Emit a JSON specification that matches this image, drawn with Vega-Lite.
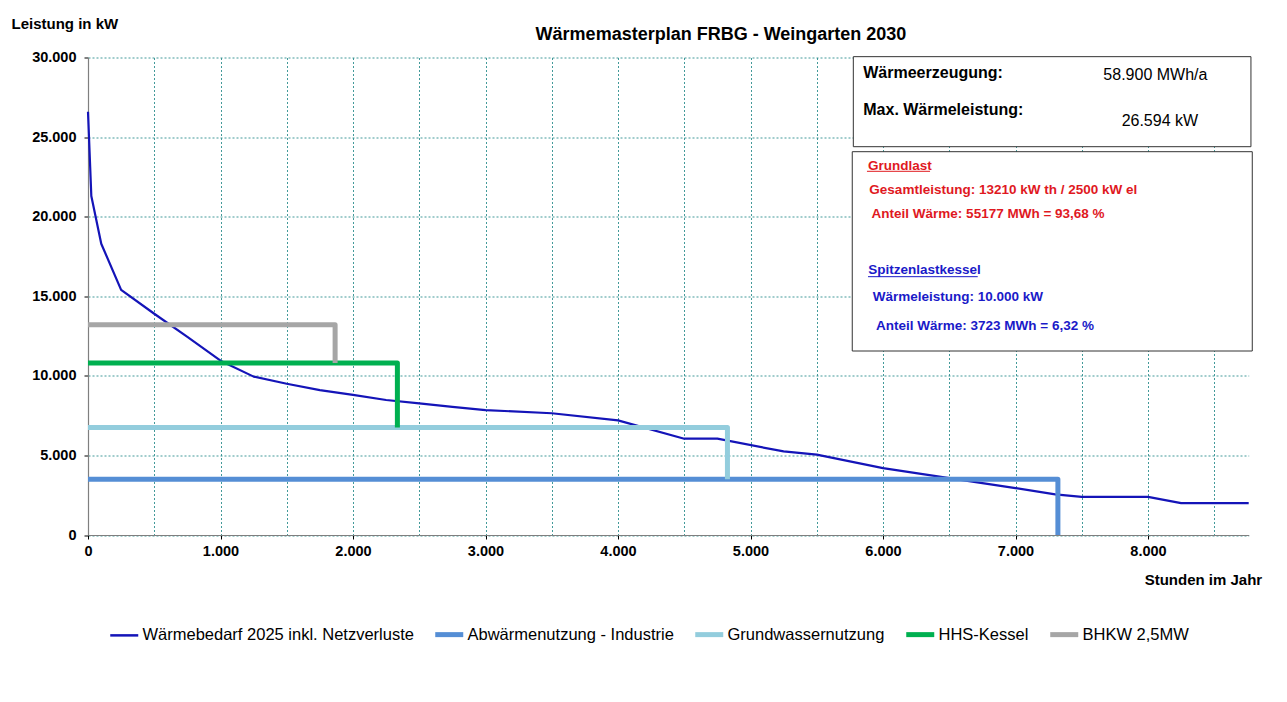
{
  "$schema": "https://vega.github.io/schema/vega-lite/v6.json",
  "width": 1160.7,
  "height": 477.5,
  "autosize": {"type": "none"},
  "padding": {"left": 88, "top": 57.5, "right": 38.3, "bottom": 167},
  "background": "white",
  "config": {"font": "Liberation Sans", "view": {"stroke": null}},
  "title": {
    "text": "Wärmemasterplan  FRBG - Weingarten 2030",
    "anchor": "start", "align": "center", "dx": 633, "frame": "group",
    "offset": -41.5, "baseline": "alphabetic",
    "fontSize": 18, "fontWeight": "bold", "color": "#000000", "font": "Liberation Sans"
  },
  "datasets": {
    "lines": [
      {"series": "Wärmebedarf 2025 inkl. Netzverluste", "i": 0, "h": 0, "kw": 26594},
      {"series": "Wärmebedarf 2025 inkl. Netzverluste", "i": 1, "h": 25, "kw": 21300},
      {"series": "Wärmebedarf 2025 inkl. Netzverluste", "i": 2, "h": 100, "kw": 18300},
      {"series": "Wärmebedarf 2025 inkl. Netzverluste", "i": 3, "h": 250, "kw": 15400},
      {"series": "Wärmebedarf 2025 inkl. Netzverluste", "i": 4, "h": 500, "kw": 13900},
      {"series": "Wärmebedarf 2025 inkl. Netzverluste", "i": 5, "h": 750, "kw": 12450},
      {"series": "Wärmebedarf 2025 inkl. Netzverluste", "i": 6, "h": 1000, "kw": 10950},
      {"series": "Wärmebedarf 2025 inkl. Netzverluste", "i": 7, "h": 1250, "kw": 9950},
      {"series": "Wärmebedarf 2025 inkl. Netzverluste", "i": 8, "h": 1500, "kw": 9500},
      {"series": "Wärmebedarf 2025 inkl. Netzverluste", "i": 9, "h": 1750, "kw": 9100},
      {"series": "Wärmebedarf 2025 inkl. Netzverluste", "i": 10, "h": 2000, "kw": 8800},
      {"series": "Wärmebedarf 2025 inkl. Netzverluste", "i": 11, "h": 2250, "kw": 8480},
      {"series": "Wärmebedarf 2025 inkl. Netzverluste", "i": 12, "h": 2500, "kw": 8270},
      {"series": "Wärmebedarf 2025 inkl. Netzverluste", "i": 13, "h": 2750, "kw": 8050},
      {"series": "Wärmebedarf 2025 inkl. Netzverluste", "i": 14, "h": 3000, "kw": 7850},
      {"series": "Wärmebedarf 2025 inkl. Netzverluste", "i": 15, "h": 3500, "kw": 7650},
      {"series": "Wärmebedarf 2025 inkl. Netzverluste", "i": 16, "h": 4000, "kw": 7200},
      {"series": "Wärmebedarf 2025 inkl. Netzverluste", "i": 17, "h": 4500, "kw": 6050},
      {"series": "Wärmebedarf 2025 inkl. Netzverluste", "i": 18, "h": 4750, "kw": 6050},
      {"series": "Wärmebedarf 2025 inkl. Netzverluste", "i": 19, "h": 5250, "kw": 5250},
      {"series": "Wärmebedarf 2025 inkl. Netzverluste", "i": 20, "h": 5500, "kw": 5050},
      {"series": "Wärmebedarf 2025 inkl. Netzverluste", "i": 21, "h": 6000, "kw": 4200},
      {"series": "Wärmebedarf 2025 inkl. Netzverluste", "i": 22, "h": 7000, "kw": 2950},
      {"series": "Wärmebedarf 2025 inkl. Netzverluste", "i": 23, "h": 7300, "kw": 2550},
      {"series": "Wärmebedarf 2025 inkl. Netzverluste", "i": 24, "h": 7500, "kw": 2400},
      {"series": "Wärmebedarf 2025 inkl. Netzverluste", "i": 25, "h": 8000, "kw": 2400},
      {"series": "Wärmebedarf 2025 inkl. Netzverluste", "i": 26, "h": 8250, "kw": 2000},
      {"series": "Wärmebedarf 2025 inkl. Netzverluste", "i": 27, "h": 8760, "kw": 2000},
      {"series": "Abwärmenutzung - Industrie", "i": 0, "h": 0, "kw": 3500},
      {"series": "Abwärmenutzung - Industrie", "i": 1, "h": 7320, "kw": 3500},
      {"series": "Abwärmenutzung - Industrie", "i": 2, "h": 7320, "kw": 0},
      {"series": "Grundwassernutzung", "i": 0, "h": 0, "kw": 6750},
      {"series": "Grundwassernutzung", "i": 1, "h": 4826, "kw": 6750},
      {"series": "Grundwassernutzung", "i": 2, "h": 4826, "kw": 3500},
      {"series": "HHS-Kessel", "i": 0, "h": 0, "kw": 10800},
      {"series": "HHS-Kessel", "i": 1, "h": 2335, "kw": 10800},
      {"series": "HHS-Kessel", "i": 2, "h": 2335, "kw": 6750},
      {"series": "BHKW 2,5MW", "i": 0, "h": 0, "kw": 13210},
      {"series": "BHKW 2,5MW", "i": 1, "h": 1865, "kw": 13210},
      {"series": "BHKW 2,5MW", "i": 2, "h": 1865, "kw": 10800}
    ],
    "boxes": [
      {"box": "summe", "h": 5776, "h2": 8777, "kw": 30053, "kw2": 24396},
      {"box": "anteile", "h": 5768, "h2": 8787, "kw": 24082, "kw2": 11560}
    ],
    "underlines": [
      {"kind": "grund", "h": 5879, "h2": 6355, "kw": 22850},
      {"kind": "spitze", "h": 5887, "h2": 6715, "kw": 16230}
    ],
    "notes": [
      {"kind": "sumlabel", "label": "Wärmeerzeugung:", "h": 5851, "kw": 29046},
      {"kind": "sumvalue", "label": "58.900 MWh/a", "h": 7663, "kw": 28901},
      {"kind": "sumlabel", "label": "Max. Wärmeleistung:", "h": 5851, "kw": 26702},
      {"kind": "sumvalue", "label": "26.594 kW", "h": 7801, "kw": 26030},
      {"kind": "grund", "label": "Grundlast", "h": 5887, "kw": 23202},
      {"kind": "grund", "label": "Gesamtleistung: 13210 kW th /  2500  kW el", "h": 5897, "kw": 21675},
      {"kind": "grund", "label": "Anteil  Wärme: 55177 MWh =  93,68 %", "h": 5914, "kw": 20149},
      {"kind": "spitze", "label": "Spitzenlastkessel", "h": 5889, "kw": 16649},
      {"kind": "spitze", "label": "Wärmeleistung:  10.000 kW", "h": 5922, "kw": 14972},
      {"kind": "spitze", "label": "Anteil Wärme: 3723 MWh =  6,32 %", "h": 5947, "kw": 13150}
    ]
  },
  "layer": [
    {
      "data": {"name": "lines"},
      "transform": [{"filter": "datum.series === 'Wärmebedarf 2025 inkl. Netzverluste'"}],
      "mark": {"type": "line", "strokeJoin": "round", "strokeCap": "butt", "strokeWidth": 2.2, "clip": false},
      "encoding": {
        "x": {
          "field": "h", "type": "quantitative",
          "scale": {"domain": [0, 8760], "nice": false, "zero": false},
          "axis": {
            "title": "Stunden im Jahr",
            "titleFontSize": 15, "titleFontWeight": "bold", "titleColor": "#000000",
            "titleAlign": "right", "titleBaseline": "middle", "titleX": 1173.7, "titleY": 44,
            "values": [0, 500, 1000, 1500, 2000, 2500, 3000, 3500, 4000, 4500, 5000, 5500, 6000, 6500, 7000, 7500, 8000, 8500],
            "labelExpr": "datum.value % 1000 === 0 ? replace(format(datum.value, ',.0f'), ',', '.') : ''",
            "labelFontSize": 14.5, "labelFontWeight": "bold", "labelColor": "#000000",
            "labelPadding": 5, "labelFlush": false, "labelOverlap": false,
            "tickSize": 4, "tickColor": "#000000",
            "tickOpacity": {"condition": {"test": "datum.value % 1000 === 0", "value": 1}, "value": 0},
            "domainColor": "#7f7f7f", "domainWidth": 1.2,
            "grid": true, "gridColor": "#2f8f8f", "gridDash": [2, 2], "gridWidth": 1, "gridOpacity": 0.9
          }
        },
        "y": {
          "field": "kw", "type": "quantitative",
          "scale": {"domain": [0, 30000], "nice": false, "zero": false},
          "axis": {
            "title": "Leistung in kW",
            "titleFontSize": 15, "titleFontWeight": "bold", "titleColor": "#000000",
            "titleAngle": 0, "titleAlign": "left", "titleBaseline": "middle", "titleX": -77, "titleY": -34.5,
            "values": [0, 5000, 10000, 15000, 20000, 25000, 30000],
            "labelExpr": "replace(format(datum.value, ',.0f'), ',', '.')",
            "labelFontSize": 14.5, "labelFontWeight": "bold", "labelColor": "#000000",
            "labelPadding": 8, "tickSize": 4, "tickColor": "#000000",
            "domainColor": "#7f7f7f", "domainWidth": 1.2,
            "grid": true, "gridColor": "#2f8f8f", "gridDash": [2, 2], "gridWidth": 1, "gridOpacity": 0.9
          }
        },
        "order": {"field": "i", "type": "quantitative"},
        "color": {
          "field": "series", "type": "nominal",
          "scale": {
            "domain": ["Wärmebedarf 2025 inkl. Netzverluste", "Abwärmenutzung - Industrie", "Grundwassernutzung", "HHS-Kessel", "BHKW 2,5MW"],
            "range": ["#1414b8", "#558ed5", "#93cddd", "#00b050", "#a6a6a6"]
          },
          "legend": {
            "orient": "none", "legendX": 28, "legendY": 568.5, "direction": "horizontal",
            "title": null, "symbolType": "stroke", "symbolSize": 784, "symbolStrokeWidth": 5,
            "labelFontSize": 16.5, "labelColor": "#000000", "labelOffset": 10, "columnPadding": 11,
            "labelLimit": 0,
            "encode": {"symbols": {"update": {"strokeWidth": {"signal": "datum.value === 'Wärmebedarf 2025 inkl. Netzverluste' ? 2.5 : 5"}}}}
          }
        }
      }
    },
    {
      "data": {"name": "lines"},
      "transform": [{"filter": "datum.series !== 'Wärmebedarf 2025 inkl. Netzverluste'"}],
      "mark": {"type": "line", "strokeJoin": "round", "strokeCap": "butt", "strokeWidth": 5, "clip": false},
      "encoding": {
        "x": {"field": "h", "type": "quantitative", "scale": {"domain": [0, 8760], "nice": false, "zero": false}},
        "y": {"field": "kw", "type": "quantitative", "scale": {"domain": [0, 30000], "nice": false, "zero": false}},
        "order": {"field": "i", "type": "quantitative"},
        "color": {"field": "series", "type": "nominal"}
      }
    },
    {
      "data": {"name": "boxes"},
      "mark": {"type": "rect", "fill": "white", "stroke": "#333333", "strokeWidth": 1, "clip": false},
      "encoding": {
        "x": {"field": "h", "type": "quantitative", "scale": {"domain": [0, 8760], "nice": false, "zero": false}},
        "x2": {"field": "h2"},
        "y": {"field": "kw", "type": "quantitative", "scale": {"domain": [0, 30000], "nice": false, "zero": false}},
        "y2": {"field": "kw2"}
      }
    },
    {
      "data": {"name": "underlines"},
      "transform": [{"filter": "datum.kind === 'grund'"}],
      "mark": {"type": "rule", "color": "#e0191f", "strokeWidth": 1, "clip": false},
      "encoding": {
        "x": {"field": "h", "type": "quantitative"},
        "x2": {"field": "h2"},
        "y": {"field": "kw", "type": "quantitative"}
      }
    },
    {
      "data": {"name": "underlines"},
      "transform": [{"filter": "datum.kind === 'spitze'"}],
      "mark": {"type": "rule", "color": "#1a1ac8", "strokeWidth": 1, "clip": false},
      "encoding": {
        "x": {"field": "h", "type": "quantitative"},
        "x2": {"field": "h2"},
        "y": {"field": "kw", "type": "quantitative"}
      }
    },
    {
      "data": {"name": "notes"},
      "transform": [{"filter": "datum.kind === 'sumlabel'"}],
      "mark": {"type": "text", "align": "left", "baseline": "middle", "fontSize": 16, "fontWeight": "bold", "color": "#000000", "clip": false},
      "encoding": {
        "x": {"field": "h", "type": "quantitative"},
        "y": {"field": "kw", "type": "quantitative"},
        "text": {"field": "label"}
      }
    },
    {
      "data": {"name": "notes"},
      "transform": [{"filter": "datum.kind === 'sumvalue'"}],
      "mark": {"type": "text", "align": "left", "baseline": "middle", "fontSize": 16, "fontWeight": "normal", "color": "#000000", "clip": false},
      "encoding": {
        "x": {"field": "h", "type": "quantitative"},
        "y": {"field": "kw", "type": "quantitative"},
        "text": {"field": "label"}
      }
    },
    {
      "data": {"name": "notes"},
      "transform": [{"filter": "datum.kind === 'grund'"}],
      "mark": {"type": "text", "align": "left", "baseline": "middle", "fontSize": 13.5, "fontWeight": "bold", "color": "#e0191f", "clip": false},
      "encoding": {
        "x": {"field": "h", "type": "quantitative"},
        "y": {"field": "kw", "type": "quantitative"},
        "text": {"field": "label"}
      }
    },
    {
      "data": {"name": "notes"},
      "transform": [{"filter": "datum.kind === 'spitze'"}],
      "mark": {"type": "text", "align": "left", "baseline": "middle", "fontSize": 13.5, "fontWeight": "bold", "color": "#1a1ac8", "clip": false},
      "encoding": {
        "x": {"field": "h", "type": "quantitative"},
        "y": {"field": "kw", "type": "quantitative"},
        "text": {"field": "label"}
      }
    }
  ]
}
